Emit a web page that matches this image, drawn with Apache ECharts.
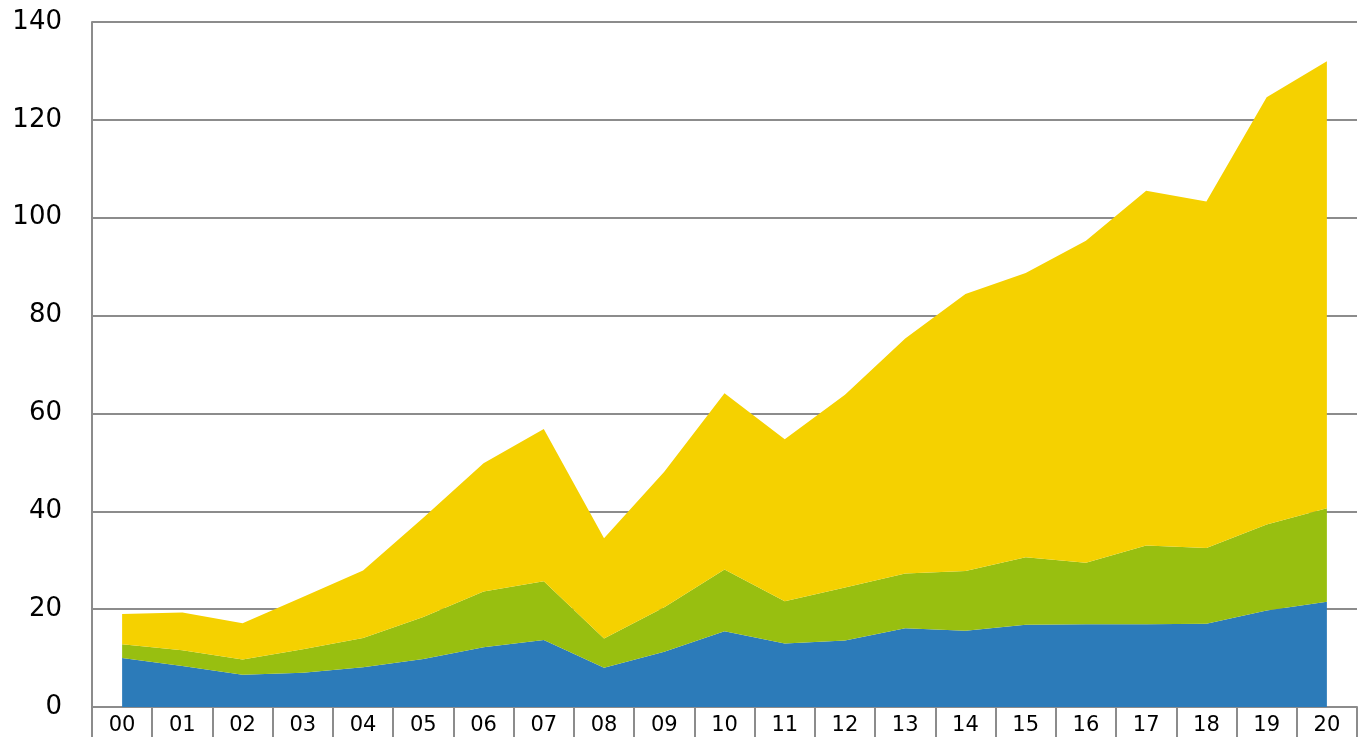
<!DOCTYPE html>
<html>
<head>
<meta charset="utf-8">
<script src="https://cdn.jsdelivr.net/npm/echarts@6/dist/echarts.min.js"></script>
<style>
  html, body { margin: 0; padding: 0; background: #fff; }
  #chart { width: 1361px; height: 737px; }
</style>
</head>
<body>
<div id="chart"></div>
<script>
// 横轴年份
const years = ["00", "01", "02", "03", "04", "05", "06", "07", "08", "09", "10",
  "11", "12", "13", "14", "15", "16", "17", "18", "19", "20"];
// 堆叠面积：蓝（底层）
const blueValues = [10.0, 8.4, 6.6, 7.0, 8.1, 9.8, 12.2, 13.7, 8.0, 11.3, 15.5,
  13.0, 13.6, 16.1, 15.6, 16.8, 16.9, 16.9, 17.0, 19.7, 21.5];
// 绿（中层）
const greenValues = [2.8, 3.2, 3.1, 4.8, 6.0, 8.6, 11.4, 12.0, 6.0, 9.1, 12.6,
  8.6, 10.8, 11.2, 12.2, 13.8, 12.6, 16.1, 15.5, 17.6, 19.1];
// 黄（顶层）
const yellowValues = [6.2, 7.7, 7.4, 10.7, 13.8, 20.3, 26.2, 31.1, 20.5, 27.7, 36.0,
  33.1, 39.4, 48.0, 56.6, 58.1, 65.8, 72.5, 70.8, 87.3, 91.4];
const yTicks = [0, 20, 40, 60, 80, 100, 120, 140];

(() => {
  configAreaChart();
})();

function configAreaChart() {
  const chart = echarts.init(document.getElementById("chart"));
  const areaSeries = (name, data, color) => ({
    name: name,
    type: "line",
    stack: "total",
    data: data,
    symbol: "none",
    lineStyle: { width: 0 },
    areaStyle: { color: color, opacity: 1 },
    itemStyle: { color: color },
  });
  const option = {
    animation: false,
    textStyle: { fontFamily: "DejaVu Sans" },
    grid: { left: 92, right: 4, top: 22, bottom: 30 },
    xAxis: {
      type: "category",
      data: years,
      boundaryGap: true,
      axisLine: { lineStyle: { color: "#8c8c8c", width: 2 } },
      axisTick: {
        show: true,
        interval: 0,
        length: 32,
        lineStyle: { color: "#8c8c8c", width: 2 },
      },
      axisLabel: {
        interval: 0,
        color: "#000",
        fontSize: 21,
        margin: 8,
      },
    },
    yAxis: {
      type: "value",
      min: yTicks[0],
      max: yTicks[yTicks.length - 1],
      interval: 20,
      axisLine: { show: true, lineStyle: { color: "#8c8c8c", width: 2 } },
      axisTick: { show: false },
      splitLine: { lineStyle: { color: "#8c8c8c", width: 2 } },
      axisLabel: {
        color: "#000",
        fontSize: 26,
        margin: 30,
      },
    },
    series: [
      areaSeries("blue", blueValues, "#2C7BB9"),
      areaSeries("green", greenValues, "#98BF10"),
      areaSeries("yellow", yellowValues, "#F5D100"),
    ],
  };
  chart.setOption(option);
}
</script>
</body>
</html>
